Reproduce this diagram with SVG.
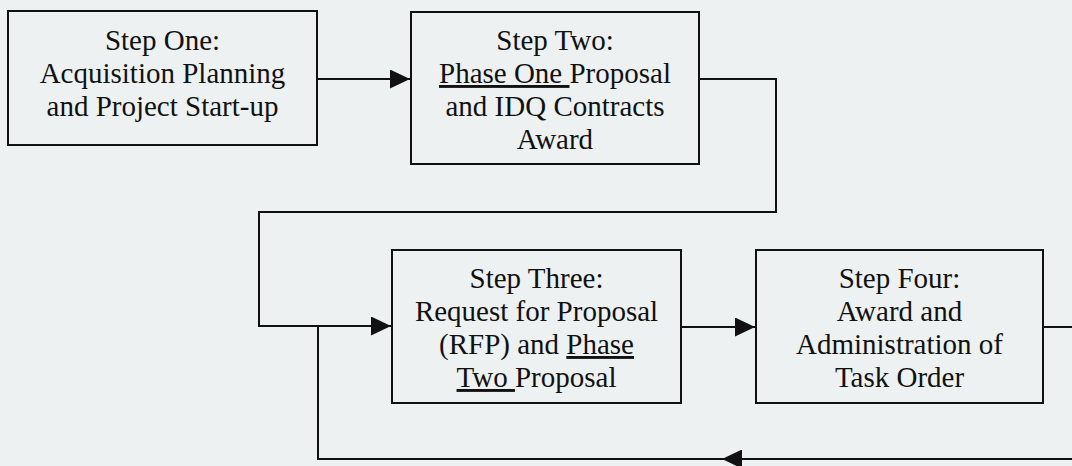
<svg xmlns="http://www.w3.org/2000/svg" width="1072" height="466" viewBox="0 0 1072 466">
<defs>
<marker id="arr" markerUnits="userSpaceOnUse" markerWidth="20" markerHeight="19" refX="20" refY="9.5" orient="auto">
<path d="M0,0 L20,9.5 L0,19 z" fill="#111"/>
</marker>
<style>
.box{fill:none;stroke:#111;stroke-width:2}
.t{font-family:"Liberation Serif","Times New Roman",serif;font-size:29px;fill:#111;text-anchor:middle}
.u{text-decoration:underline}
.c{fill:none;stroke:#111;stroke-width:2}
</style>
</defs>
<rect width="1072" height="466" fill="#edf1f1"/>
<g id="step1">
<rect class="box" x="8" y="11" width="309" height="134"/>
<text class="t" x="162.5" y="50">Step One:</text>
<text class="t" x="162.5" y="83">Acquisition Planning</text>
<text class="t" x="162.5" y="116">and Project Start-up</text>
</g>
<g id="step2">
<rect class="box" x="411" y="12" width="288" height="152"/>
<text class="t" x="555" y="50">Step Two:</text>
<text class="t" x="555" y="83"><tspan class="u">Phase One </tspan>Proposal</text>
<text class="t" x="555" y="116">and IDQ Contracts</text>
<text class="t" x="555" y="149">Award</text>
</g>
<g id="step3">
<rect class="box" x="392" y="250" width="289" height="153"/>
<text class="t" x="536.5" y="288">Step Three:</text>
<text class="t" x="536.5" y="321">Request for Proposal</text>
<text class="t" x="536.5" y="354">(RFP) and <tspan class="u">Phase</tspan></text>
<text class="t" x="536.5" y="387"><tspan class="u">Two </tspan>Proposal</text>
</g>
<g id="step4">
<rect class="box" x="756" y="250" width="287" height="153"/>
<text class="t" x="899.5" y="288">Step Four:</text>
<text class="t" x="899.5" y="321">Award and</text>
<text class="t" x="899.5" y="354">Administration of</text>
<text class="t" x="899.5" y="387">Task Order</text>
</g>
<g id="connectors">
<path class="c" d="M317,79 H410" marker-end="url(#arr)"/>
<path class="c" d="M699,79 H776 V212 H259 V326 H391" marker-end="url(#arr)"/>
<path class="c" d="M681,327 H755" marker-end="url(#arr)"/>
<path class="c" d="M1043,327 H1072"/>
<path class="c" d="M1072,459 H722" marker-end="url(#arr)"/>
<path class="c" d="M723,459 H318 V326"/>
</g>
</svg>
